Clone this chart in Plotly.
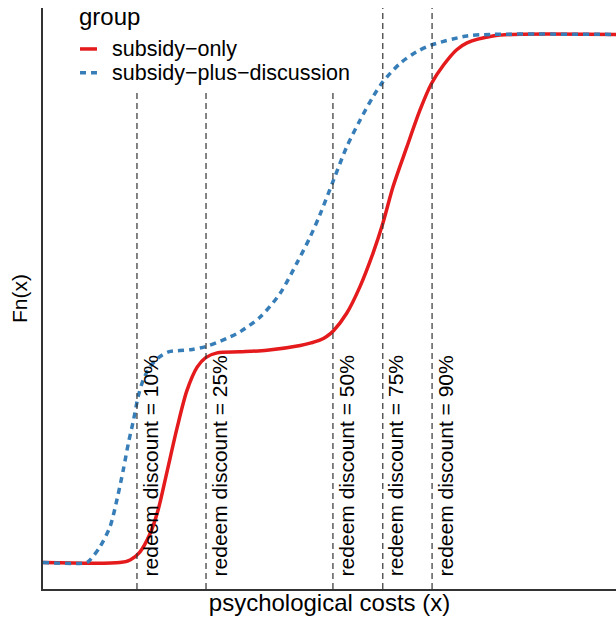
import plotly.graph_objects as go

# Empirical CDF-like curves (x in arbitrary psychological-cost units, y = Fn(x))
only_x = [0, 13.4, 15.2, 16.9, 18.7, 20.1, 21.6, 23.4, 25.1, 26.9, 28.4, 30.4, 34.4, 39.1,
          44.9, 46.8, 48.3, 49.5, 50.7, 53.0, 55.3, 57.6, 59.3, 61.1, 63.5, 65.8, 67.8, 69.9, 72.2, 74.0,
          78.5, 82.0, 100]
only_y = [0, 0, 0.005, 0.020, 0.055, 0.100, 0.170, 0.255, 0.325, 0.370, 0.388, 0.397, 0.399, 0.402,
          0.411, 0.416, 0.421, 0.428, 0.439, 0.472, 0.522, 0.586, 0.642, 0.712, 0.787, 0.857, 0.907, 0.942,
          0.971, 0.984, 0.997, 1.0, 1.0]

disc_x = [0, 7.6, 8.2, 9.95, 11.7, 12.9, 14.0, 14.9, 15.8, 16.6, 17.5, 18.7, 20.4, 21.9, 25.7, 28.4,
          30.9, 32.6, 34.4, 37.9, 41.4, 44.3, 46.6, 48.3, 50.7, 53.0, 55.3, 57.6, 59.3, 62.3, 65.2, 67.8,
          74.0, 78.5, 100]
disc_y = [0, 0, 0.005, 0.030, 0.068, 0.119, 0.175, 0.226, 0.270, 0.314, 0.346, 0.371, 0.390, 0.399, 0.403, 0.409,
          0.419, 0.427, 0.437, 0.465, 0.510, 0.567, 0.616, 0.658, 0.724, 0.787, 0.837, 0.882, 0.910, 0.945, 0.967,
          0.980, 0.997, 1.0, 1.0]

cutoffs = [16.4, 28.45, 50.6, 59.3, 67.9]
cutoff_labels = ["redeem discount = 10%", "redeem discount = 25%", "redeem discount = 50%",
                 "redeem discount = 75%", "redeem discount = 90%"]
label_y = -0.03

group_names = ["subsidy\u2212only", "subsidy\u2212plus\u2212discussion"]
group_colors = ["#E41A1C", "#377EB8"]
group_dash = ["solid", "6px,5px"]
legend_title = "group"

FONT = "Liberation Sans, Arial, Helvetica, sans-serif"

fig = go.Figure()
for xs, ys, nm, col, dsh in zip([only_x, disc_x], [only_y, disc_y], group_names, group_colors, group_dash):
    fig.add_trace(go.Scatter(x=xs, y=ys, mode="lines", name=nm, showlegend=False,
                             line=dict(color=col, width=3.5, dash=dsh, shape="spline", smoothing=0.8)))

for c, lab in zip(cutoffs, cutoff_labels):
    fig.add_shape(type="line", x0=c, x1=c, y0=0, y1=1, xref="x", yref="paper",
                  line=dict(color="#333333", width=1.2, dash="6px,4px"), layer="above")
    fig.add_annotation(x=c, y=label_y, xref="x", yref="y", text=lab, textangle=-90,
                       showarrow=False, xanchor="left", yanchor="bottom",
                       font=dict(family=FONT, size=21, color="black"))

# Legend (drawn manually to match the compact key spacing of the original)
fig.add_shape(type="rect", xref="paper", yref="paper", x0=0.045, x1=0.565, y0=0.858, y1=1.0,
              fillcolor="white", line=dict(width=0), layer="above")
fig.add_annotation(xref="paper", yref="paper", x=0.059, y=0.985, text=legend_title,
                   showarrow=False, xanchor="left", yanchor="middle",
                   font=dict(family=FONT, size=24, color="black"))
legend_rows = [0.9295, 0.8885]
for row, nm, col, dsh in zip(legend_rows, group_names, group_colors, group_dash):
    fig.add_shape(type="line", xref="paper", yref="paper", x0=0.0646, x1=0.0942, y0=row, y1=row,
                  line=dict(color=col, width=3.5, dash=dsh), layer="above")
    fig.add_annotation(xref="paper", yref="paper", x=0.1175, y=row, text=nm,
                       showarrow=False, xanchor="left", yanchor="middle",
                       font=dict(family=FONT, size=21.5, color="black"))

fig.update_layout(
    width=616, height=621,
    margin=dict(l=43, r=0, t=8, b=32),
    plot_bgcolor="white", paper_bgcolor="white",
    font=dict(family=FONT, color="black"),
    showlegend=False,
    xaxis=dict(range=[0, 100], showgrid=False, zeroline=False, showticklabels=False, ticks="",
               showline=True, linecolor="#333333", linewidth=1.5,
               title=dict(text="psychological costs (x)", font=dict(size=24, family=FONT), standoff=4)),
    yaxis=dict(range=[-0.05, 1.05], showgrid=False, zeroline=False, showticklabels=False, ticks="",
               showline=True, linecolor="#333333", linewidth=1.5,
               title=dict(text="Fn(x)", font=dict(size=21, family=FONT), standoff=8)),
)

fig.write_html("out.html")
